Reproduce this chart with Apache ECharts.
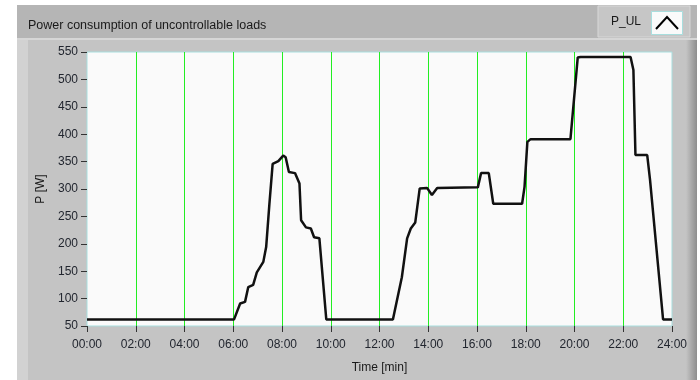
<!DOCTYPE html>
<html>
<head>
<meta charset="utf-8">
<script src="https://cdn.jsdelivr.net/npm/echarts@6/dist/echarts.min.js"></script>
<style>
html,body{margin:0;padding:0;background:#ffffff;}
#chart{width:700px;height:380px;}
</style>
</head>
<body>
<div id="chart"></div>
<script>
// Time in minutes since 00:00
const timeMin = [0, 362, 377, 389, 397, 409, 418, 434, 441, 449, 457, 471, 483, 489, 497, 512, 523, 527, 539, 551, 559, 572, 589, 753, 775, 788, 797, 808, 819, 837, 849, 862, 962, 970, 989, 1000, 1071, 1077, 1084, 1092, 1190, 1208, 1215, 1338, 1345, 1350, 1379, 1386, 1418, 1440];
// Power of uncontrollable loads P_UL [W]
const powerW = [62, 62, 91, 94, 121, 125, 148, 167, 194, 273, 346, 351, 361, 358, 331, 329, 310, 243, 230, 228, 212, 210, 62, 62, 139, 210, 228, 239, 301, 302, 289, 302, 303, 329, 329, 273, 273, 304, 386, 391, 391, 540, 541, 541, 517, 362, 362, 316, 62, 62];
const xTickLabels = ['00:00','02:00','04:00','06:00','08:00','10:00','12:00','14:00','16:00','18:00','20:00','22:00','24:00'];
const titleText = 'Power consumption of uncontrollable loads';
const seriesName = 'P_UL';

const data = timeMin.map((t, i) => [t, powerW[i]]);
const chart = echarts.init(document.getElementById('chart'), null, {renderer: 'canvas'});
const FONT = 'Liberation Sans';

chart.setOption({
  animation: false,
  backgroundColor: '#ffffff',
  graphic: [
    // main panel
    {type: 'rect', z: -10, shape: {x: 17, y: 5, width: 672, height: 375}, style: {fill: '#c4c4c4'}},
    // left lighter strip
    {type: 'rect', z: -9, shape: {x: 17, y: 38, width: 11, height: 342}, style: {fill: '#d2d2d2'}},
    // right shadow
    {type: 'rect', z: -9, shape: {x: 686, y: 38, width: 11, height: 342}, style: {fill: new echarts.graphic.LinearGradient(0, 0, 1, 0, [{offset: 0, color: '#c4c4c4'}, {offset: 1, color: '#8e8e8e'}])}},
    // title bar
    {type: 'rect', z: -8, shape: {x: 17, y: 5, width: 680, height: 33}, style: {fill: '#b5b5b5'}},
    {type: 'rect', z: -8, shape: {x: 17, y: 38, width: 680, height: 2}, style: {fill: '#d6d6d6'}},
    // legend area
    {type: 'rect', z: -7, shape: {x: 598, y: 6, width: 92, height: 31}, style: {fill: '#c6c6c6', stroke: '#d8d8d8', lineWidth: 1}},
    {type: 'text', z: 5, left: 28, top: 19, style: {text: titleText, font: '12.5px ' + FONT, fill: '#1a1a1a'}},
    {type: 'text', z: 5, left: 611, top: 16, style: {text: seriesName, font: '12px ' + FONT, fill: '#1a1a1a'}},
    {type: 'rect', z: 5, shape: {x: 651.5, y: 11.5, width: 31, height: 23}, style: {fill: '#fafafa', stroke: '#a8dede', lineWidth: 1}},
    {type: 'polyline', z: 6, shape: {points: [[656, 29], [667, 17], [678, 29]]}, style: {stroke: '#000000', lineWidth: 2, fill: null}}
  ],
  grid: {
    left: 87, right: 28, top: 52, bottom: 54,
    show: true, backgroundColor: '#fafafa', borderColor: '#a8dede', borderWidth: 1,
    containLabel: false
  },
  xAxis: {
    type: 'value', min: 0, max: 1440, interval: 120,
    name: 'Time [min]', nameLocation: 'middle', nameGap: 36,
    nameTextStyle: {fontFamily: FONT, fontSize: 12, color: '#1a1a1a'},
    axisLine: {show: false},
    axisTick: {show: true, length: 6, lineStyle: {color: '#333'}},
    axisLabel: {
      margin: 13, fontFamily: FONT, fontSize: 12, color: '#22262f',
      formatter: v => xTickLabels[Math.round(v / 120)]
    },
    splitLine: {show: true, showMinLine: false, showMaxLine: false, lineStyle: {color: '#22ee22', width: 1}}
  },
  yAxis: {
    type: 'value', min: 50, max: 550, interval: 50,
    name: 'P [W]', nameLocation: 'middle', nameGap: 36, nameRotate: 90,
    nameTextStyle: {fontFamily: FONT, fontSize: 12, color: '#1a1a1a'},
    axisLine: {show: false},
    axisTick: {show: true, length: 6, lineStyle: {color: '#333'}},
    axisLabel: {margin: 9, fontFamily: FONT, fontSize: 12, color: '#22262f'},
    splitLine: {show: false}
  },
  series: [{
    name: seriesName,
    type: 'line',
    data: data,
    showSymbol: false,
    lineStyle: {color: '#111111', width: 2.5},
    z: 3
  }]
});
</script>
</body>
</html>
